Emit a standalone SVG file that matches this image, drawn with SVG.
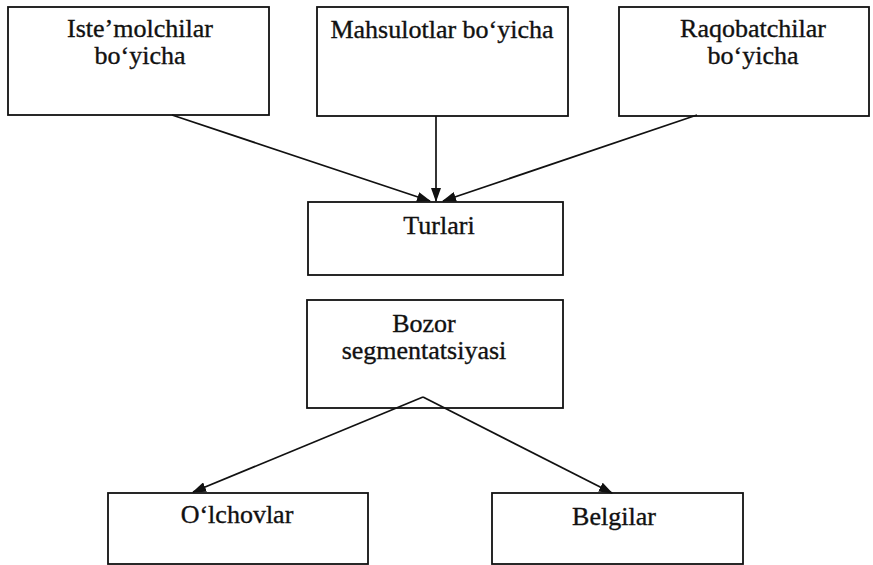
<svg xmlns="http://www.w3.org/2000/svg" width="873" height="565" viewBox="0 0 873 565">
<style>
.box{fill:#fff;stroke:#111;stroke-width:1.8}
.t{font-family:"Liberation Serif","Times New Roman",serif;font-size:26px;fill:#111;stroke:#111;stroke-width:0.35;text-anchor:middle}
.c{stroke:#111;stroke-width:1.7;fill:none}
</style>
<defs>
<marker id="ah" viewBox="0 0 14 10" refX="13" refY="5" markerWidth="14" markerHeight="10" markerUnits="userSpaceOnUse" orient="auto">
<path d="M0,0 L14,5 L0,10 Z" fill="#111"/>
</marker>
</defs>
<rect width="873" height="565" fill="#fff"/>
<g id="n1"><rect class="box" x="8" y="7" width="261" height="108"/><text class="t" x="140" y="37">Iste’molchilar</text><text class="t" x="140" y="64">bo‘yicha</text></g>
<g id="n2"><rect class="box" x="317" y="7" width="251" height="109"/><text class="t" x="442" y="38">Mahsulotlar bo‘yicha</text></g>
<g id="n3"><rect class="box" x="619" y="7" width="250" height="109"/><text class="t" x="753" y="37">Raqobatchilar</text><text class="t" x="753" y="64">bo‘yicha</text></g>
<g id="n4"><rect class="box" x="308" y="202" width="255" height="73"/><text class="t" x="439" y="234">Turlari</text></g>
<g id="n5"><rect class="box" x="307" y="300" width="256" height="108"/><text class="t" x="424" y="332">Bozor</text><text class="t" x="424" y="359">segmentatsiyasi</text></g>
<g id="n6"><rect class="box" x="108" y="493" width="260" height="71"/><text class="t" x="237" y="523">O‘lchovlar</text></g>
<g id="n7"><rect class="box" x="492" y="493" width="251" height="71"/><text class="t" x="614" y="525">Belgilar</text></g>
<g id="connectors">
<line class="c" x1="172" y1="115" x2="430" y2="201" marker-end="url(#ah)"/>
<line class="c" x1="436" y1="116" x2="436" y2="201" marker-end="url(#ah)"/>
<line class="c" x1="697" y1="115" x2="443" y2="201" marker-end="url(#ah)"/>
<line class="c" x1="423" y1="397" x2="193" y2="492" marker-end="url(#ah)"/>
<line class="c" x1="423" y1="397" x2="612" y2="493" marker-end="url(#ah)"/>
</g>
</svg>
